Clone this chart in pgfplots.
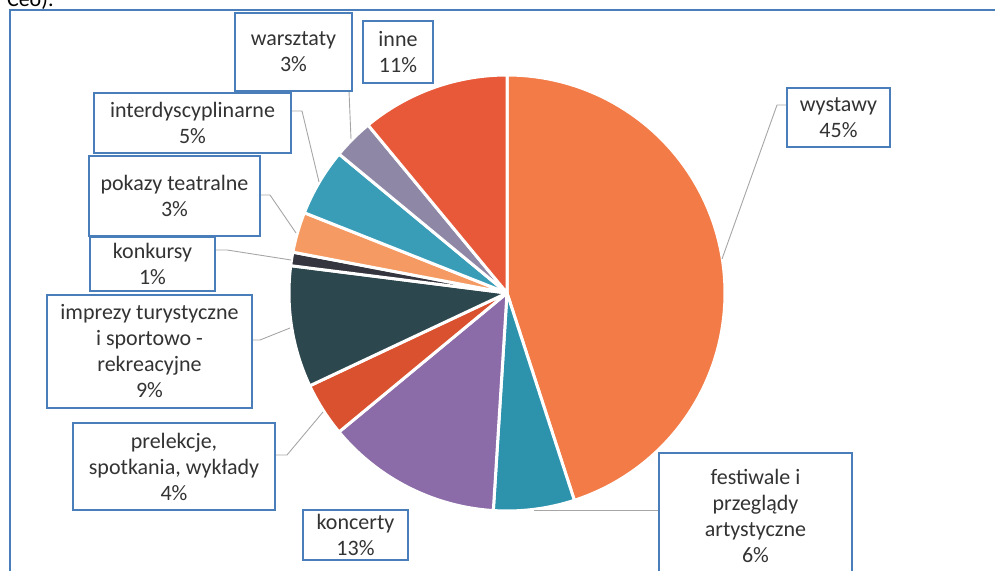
\documentclass[border=0pt]{standalone}
\usepackage{pgfplots}
\pgfplotsset{compat=1.18}
\usepgfplotslibrary{polar}
\usepackage{fontspec}
\setmainfont{Carlito}
\definecolor{cWys}{HTML}{F27B47}
\definecolor{cFes}{HTML}{2D93AD}
\definecolor{cKon}{HTML}{8B6BA8}
\definecolor{cPre}{HTML}{D9512F}
\definecolor{cImp}{HTML}{2C474D}
\definecolor{cKkr}{HTML}{35353F}
\definecolor{cPok}{HTML}{F59A62}
\definecolor{cInt}{HTML}{3A9DB8}
\definecolor{cWar}{HTML}{8F87A6}
\definecolor{cInn}{HTML}{E8593A}
\definecolor{boxblue}{HTML}{4A7EBB}
\definecolor{txt}{HTML}{333333}
\definecolor{lead}{HTML}{A6A6A6}
\begin{document}
\begin{tikzpicture}
\useasboundingbox (0,0) rectangle (497.5pt,285.5pt);
\clip (0,0) rectangle (497.5pt,285.5pt);
% pie: percentages 45,6,13,4,9,1,3,5,3,11 clockwise from 12 o'clock (1% = 3.6 deg)
\begin{polaraxis}[at={(253.5pt,139pt)}, anchor=center, scale only axis,
  width=218pt, height=218pt, hide axis, ymin=0, ymax=1, xmin=0, xmax=360, clip=false,
  every axis plot/.append style={draw=white, line width=1.5pt, line join=round}]
\addplot[fill=cWys, domain=-72:90, samples=90] {1} -- (axis cs:0,0) -- cycle;      % wystawy 45
\addplot[fill=cFes, domain=-93.6:-72, samples=20] {1} -- (axis cs:0,0) -- cycle;   % festiwale 6
\addplot[fill=cKon, domain=-140.4:-93.6, samples=40] {1} -- (axis cs:0,0) -- cycle; % koncerty 13
\addplot[fill=cPre, domain=-154.8:-140.4, samples=15] {1} -- (axis cs:0,0) -- cycle; % prelekcje 4
\addplot[fill=cImp, domain=-187.2:-154.8, samples=30] {1} -- (axis cs:0,0) -- cycle; % imprezy 9
\addplot[fill=cKkr, domain=-190.8:-187.2, samples=5] {1} -- (axis cs:0,0) -- cycle;  % konkursy 1
\addplot[fill=cPok, domain=-201.6:-190.8, samples=12] {1} -- (axis cs:0,0) -- cycle; % pokazy 3
\addplot[fill=cInt, domain=-219.6:-201.6, samples=18] {1} -- (axis cs:0,0) -- cycle; % interdyscyplinarne 5
\addplot[fill=cWar, domain=-230.4:-219.6, samples=12] {1} -- (axis cs:0,0) -- cycle; % warsztaty 3
\addplot[fill=cInn, domain=-270:-230.4, samples=35] {1} -- (axis cs:0,0) -- cycle;  % inne 11
\end{polaraxis}
\begin{scope}[x=0.5pt, y=-0.5pt, shift={(0pt,285.5pt)}]
  % outer frame
  \draw[boxblue, line width=1pt] (1100,10) -- (10,10) -- (10,700);
  \node[anchor=base west, font=\fontsize{11}{13}\selectfont] at (0,7) {Ceo).};
  % leader lines
  \begin{scope}[lead, line width=0.45pt]
    \draw (787,105) -- (777,105) -- (722,259);
    \draw (659,510) -- (534,510);
    \draw (275,455) -- (287,455) -- (323,412);
    \draw (252,340) -- (260,340) -- (290,328);
    \draw (215,250) -- (227,250) -- (291,260);
    \draw (260,195) -- (270,195) -- (296,233);
    \draw (291,111) -- (302,111) -- (319,182);
    \draw (349,91) -- (351,139);
  \end{scope}
  \tikzset{lab/.style={draw=boxblue, line width=1pt, fill=white, align=center, text=txt,
      font=\fontsize{11}{13}\selectfont, inner sep=0pt}}
  \node[lab, minimum width=58.5pt, minimum height=39pt] at (293.5,52) {warsztaty\\3\%};
  \node[lab, minimum width=35pt, minimum height=31pt] at (398,52) {inne\\11\%};
  \node[lab, minimum width=51.5pt, minimum height=29.5pt] at (838.5,117.5) {wystawy\\45\%};
  \node[lab, minimum width=98.5pt, minimum height=30pt] at (192.5,123) {interdyscyplinarne\\5\%};
  \node[lab, minimum width=85.5pt, minimum height=40pt] at (174.5,196) {pokazy teatralne\\3\%};
  \node[lab, minimum width=62.5pt, minimum height=27pt] at (152.5,264) {konkursy\\1\%};
  \node[lab, minimum width=102.5pt, minimum height=56.5pt] at (149.5,351.5) {imprezy turystyczne\\i sportowo -\\rekreacyjne\\9\%};
  \node[lab, minimum width=101pt, minimum height=43.5pt] at (174,466.5) {prelekcje,\\spotkania, wykłady\\4\%};
  \node[lab, minimum width=52.5pt, minimum height=25pt] at (355.5,535) {koncerty\\13\%};
  \node[lab, minimum width=96.5pt, minimum height=62.5pt] at (755.5,515.5) {festiwale i\\przeglądy\\artystyczne\\6\%};
\end{scope}
\end{tikzpicture}
\end{document}
